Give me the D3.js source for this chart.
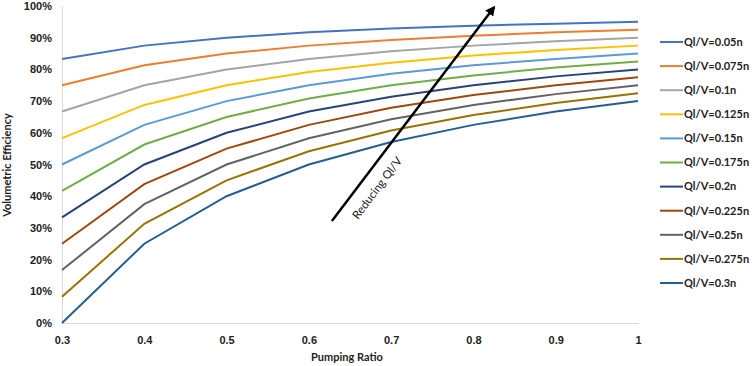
<!DOCTYPE html>
<html lang="en">
<head>
<meta charset="UTF-8">
<title>Volumetric efficiency vs pumping ratio</title>
<script src="https://d3js.org/d3.v7.min.js"></script>
<style>
  html, body { margin:0; padding:0; background:#fff; font-family:Lato, "Open Sans", sans-serif; }
  .axis text { font-size:11px; font-weight:bold; fill:#222; }
  .axis path, .axis line { stroke:#d9d9d9; }
</style>
</head>
<body>
<div id="chart"></div>
<script>
const pumpingRatio=[0.3,0.4,0.5,0.6,0.7,0.8,0.9,1];
const seriesNames=["Ql/V=0.05n","Ql/V=0.075n","Ql/V=0.1n","Ql/V=0.125n","Ql/V=0.15n","Ql/V=0.175n","Ql/V=0.2n","Ql/V=0.225n","Ql/V=0.25n","Ql/V=0.275n","Ql/V=0.3n"];
const colors=["#4472C4","#ED7D31","#A5A5A5","#FFC000","#5B9BD5","#70AD47","#264478","#9E480E","#636363","#997300","#255E91"];
// efficiency in %, one row per series
const efficiency=[
  [83.3,87.5,90.0,91.7,92.9,93.8,94.4,95.0],
  [75.0,81.3,85.0,87.5,89.3,90.6,91.7,92.5],
  [66.7,75.0,80.0,83.3,85.7,87.5,88.9,90.0],
  [58.3,68.8,75.0,79.2,82.1,84.4,86.1,87.5],
  [50.0,62.5,70.0,75.0,78.6,81.3,83.3,85.0],
  [41.7,56.3,65.0,70.8,75.0,78.1,80.6,82.5],
  [33.3,50.0,60.0,66.7,71.4,75.0,77.8,80.0],
  [25.0,43.8,55.0,62.5,67.9,71.9,75.0,77.5],
  [16.7,37.5,50.0,58.3,64.3,68.8,72.2,75.0],
  [8.3,31.3,45.0,54.2,60.7,65.6,69.4,72.5],
  [0.0,25.0,40.0,50.0,57.1,62.5,66.7,70.0]
];
const yTicks=[0,10,20,30,40,50,60,70,80,90,100];
// annotation arrow in data units [pumping ratio, %]
const arrowFrom=[0.628,32.2], arrowTo=[0.825,99.6];

const width=754, height=366;
const svg=d3.select("#chart").append("svg").attr("width",width).attr("height",height);

const x=d3.scaleLinear().domain([0.3,1]).range([62,638]);
const y=d3.scaleLinear().domain([0,100]).range([323,6]);

svg.append("g").attr("class","axis").attr("transform","translate(0,323)")
  .call(d3.axisBottom(x).tickValues(pumpingRatio).tickSize(0).tickPadding(13).tickFormat(d=>d===1?"1":d3.format(".1f")(d)));
svg.append("g").attr("class","axis").attr("transform","translate(62,0)")
  .call(d3.axisLeft(y).tickValues(yTicks).tickSize(0).tickPadding(10).tickFormat(d=>d+"%"));

svg.append("text").attr("x",347).attr("y",361).attr("text-anchor","middle")
  .attr("font-size",11).attr("font-weight","bold").attr("fill","#222").text("Pumping Ratio");
svg.append("text").attr("transform","translate(11,165) rotate(-90)").attr("text-anchor","middle")
  .attr("font-size",11).attr("font-weight","bold").attr("fill","#222").text("Volumetric Efficiency");

const line=d3.line().x((d,i)=>x(pumpingRatio[i])).y(d=>y(d));
svg.append("g").selectAll("path").data(efficiency).join("path")
  .attr("d",line).attr("fill","none").attr("stroke",(d,i)=>colors[i]).attr("stroke-width",2);

// legend
const leg=svg.append("g").selectAll("g").data(seriesNames).join("g")
  .attr("transform",(d,i)=>"translate(660,"+(42+i*24.1)+")");
leg.append("line").attr("x1",0).attr("x2",23).attr("stroke",(d,i)=>colors[i]).attr("stroke-width",2);
leg.append("text").attr("x",24).attr("dy","0.35em").attr("font-size",11).attr("font-weight","bold")
  .attr("fill","#222").text(d=>d);

// arrow annotation
svg.append("defs").append("marker").attr("id","head").attr("viewBox","0 0 10 10")
  .attr("refX",8).attr("refY",5).attr("markerWidth",4).attr("markerHeight",4).attr("orient","auto")
  .append("path").attr("d","M0,0L10,5L0,10z").attr("fill","#000");
const ax0=x(arrowFrom[0]), ay0=y(arrowFrom[1]), ax1=x(arrowTo[0]), ay1=y(arrowTo[1]);
svg.append("line").attr("x1",ax0).attr("y1",ay0).attr("x2",ax1).attr("y2",ay1)
  .attr("stroke","#000").attr("stroke-width",2.5).attr("marker-end","url(#head)");
const ang=Math.atan2(ay1-ay0,ax1-ax0)*180/Math.PI;
svg.append("text").attr("transform","translate("+(ax0+26)+","+(ay0-1)+") rotate("+ang+")")
  .attr("font-size",11.5).attr("fill","#222").text("Reducing Ql/V");
</script>
</body>
</html>
